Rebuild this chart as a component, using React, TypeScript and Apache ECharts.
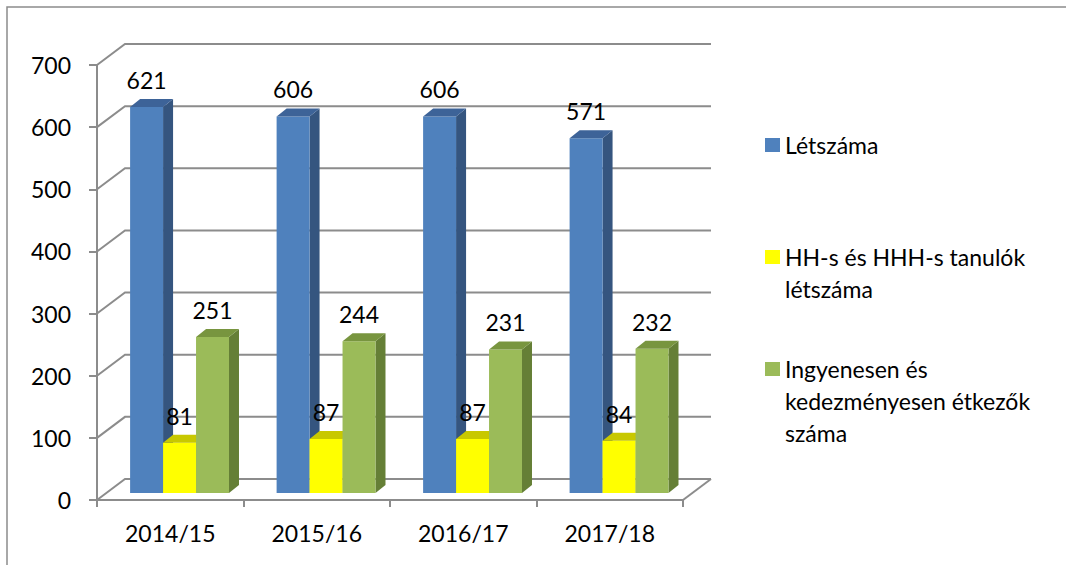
import React, { useEffect, useRef } from "react";
import * as echarts from "echarts";

const categories = ["2014/15", "2015/16", "2016/17", "2017/18"];
const letszama = [621, 606, 606, 571];
const hhTanulok = [81, 87, 87, 84];
const etkezok = [251, 244, 231, 232];
const yTicks = [0, 100, 200, 300, 400, 500, 600, 700];
const seriesNames = [
  "Létszáma",
  "HH-s és HHH-s tanulók létszáma",
  "Ingyenesen és kedezményesen étkezők száma",
];
const legendLines = [
  ["Létszáma"],
  ["HH-s és HHH-s tanulók", "létszáma"],
  ["Ingyenesen és", "kedezményesen étkezők", "száma"],
];

const FONT = "Lato";
const FS = 23;
const GRID_COLOR = "#8c8c8c";
const WALL_DX = 28;
const WALL_DY = -21;
const PLANE_DX = 9.3;
const PLANE_DY = -7;
const BAR_DX = 10;
const BAR_DY = -8;

const palettes = [
  { front: "#4F81BD", side: "#35557F", top: "#3D6398" },
  { front: "#FFFF00", side: "#B8B800", top: "#C8C800" },
  { front: "#9BBB59", side: "#657F36", top: "#78953F" },
];

function barRenderer(s: number) {
  const pal = palettes[s];
  return (params: any, api: any) => {
    const idx = api.value(0);
    const v = api.value(1);
    const base = api.coord([idx, 0]);
    const top = api.coord([idx, v]);
    const band = api.size([1, 0])[0];
    const bw = band * 0.225;
    const cx = base[0] + PLANE_DX;
    const xl = cx - 1.5 * bw + s * bw;
    const xr = xl + bw;
    const yb = base[1] + PLANE_DY;
    const yt = top[1] + PLANE_DY;
    return {
      type: "group",
      children: [
        {
          type: "polygon",
          shape: {
            points: [
              [xr, yt],
              [xr + BAR_DX, yt + BAR_DY],
              [xr + BAR_DX, yb + BAR_DY],
              [xr, yb],
            ],
          },
          style: { fill: pal.side },
        },
        {
          type: "rect",
          shape: { x: xl, y: yt, width: bw, height: yb - yt },
          style: { fill: pal.front },
        },
        {
          type: "polygon",
          shape: {
            points: [
              [xl, yt],
              [xl + BAR_DX, yt + BAR_DY],
              [xr + BAR_DX, yt + BAR_DY],
              [xr, yt],
            ],
          },
          style: { fill: pal.top },
        },
        {
          type: "text",
          z2: 50,
          x: (xl + xr) / 2,
          y: yt - 27,
          style: {
            text: String(v),
            fill: "#000",
            fontSize: FS,
            fontFamily: FONT,
            align: "center",
            verticalAlign: "middle",
          },
        },
      ],
    };
  };
}

function wallRenderer(params: any, api: any) {
  const cs = params.coordSys;
  const x0 = cs.x;
  const w = cs.width;
  const v = api.value(1);
  const y = api.coord([0, v])[1];
  const children: any[] = [
    {
      type: "polyline",
      shape: {
        points: [
          [x0, y],
          [x0 + WALL_DX, y + WALL_DY],
          [x0 + w + WALL_DX, y + WALL_DY],
        ],
      },
      style: { stroke: GRID_COLOR, lineWidth: 2, fill: "none" },
    },
  ];
  if (v === 0) {
    children.push({
      type: "line",
      shape: { x1: x0 + w, y1: y, x2: x0 + w + WALL_DX, y2: y + WALL_DY },
      style: { stroke: GRID_COLOR, lineWidth: 2 },
    });
  }
  return { type: "group", children };
}

export default function App() {
  const ref = useRef<HTMLDivElement>(null);
  useEffect(() => {
    if (!ref.current) return;
    const chart = echarts.init(ref.current, undefined, { renderer: "svg" });
    const valueSets = [letszama, hhTanulok, etkezok];
    const lh = 32;
    const iconCenters = [145, 257, 369];
    chart.setOption({
      animation: false,
      backgroundColor: "#fff",
      graphic: [
        {
          type: "rect",
          shape: { x: 7, y: 7, width: 1200, height: 700 },
          style: { fill: "none", stroke: GRID_COLOR, lineWidth: 1.5 },
          silent: true,
        },
      ],
      grid: { left: 97, top: 65, width: 586, height: 435 },
      xAxis: {
        type: "category",
        data: categories,
        axisLine: { show: true, lineStyle: { color: GRID_COLOR, width: 2 } },
        axisTick: { show: true, length: 7, lineStyle: { color: GRID_COLOR, width: 2 } },
        axisLabel: { color: "#000", fontSize: FS, fontFamily: FONT, margin: 21 },
        splitLine: { show: false },
      },
      yAxis: {
        type: "value",
        min: 0,
        max: 700,
        interval: 100,
        axisLine: { show: true, lineStyle: { color: GRID_COLOR, width: 2 } },
        axisTick: { show: true, inside: false, length: 8, lineStyle: { color: GRID_COLOR, width: 2 } },
        axisLabel: { color: "#000", fontSize: FS, fontFamily: FONT, margin: 26 },
        splitLine: { show: false },
      },
      legend: legendLines.map((lines, i) => {
        const n = lines.length;
        const box = (2 * n - 1) * lh;
        const padded = new Array(n - 1).fill("").concat(lines).join("\n");
        return {
          data: [seriesNames[i]],
          left: 765,
          top: iconCenters[i] - box / 2,
          orient: "vertical",
          padding: 0,
          itemWidth: 15,
          itemHeight: 14,
          icon: "rect",
          selectedMode: false,
          formatter: () => padded,
          textStyle: {
            color: "#000",
            fontSize: FS,
            fontFamily: FONT,
            lineHeight: lh,
          },
        };
      }),
      series: [
        {
          type: "custom",
          name: "walls",
          z: 1,
          silent: true,
          renderItem: wallRenderer,
          data: yTicks.map((v) => [0, v]),
          encode: { x: 0, y: 1 },
        },
        ...valueSets.map((vals, s) => ({
          type: "custom",
          name: seriesNames[s],
          z: 3,
          itemStyle: { color: palettes[s].front },
          renderItem: barRenderer(s),
          data: vals.map((v, i) => [i, v]),
          encode: { x: 0, y: 1 },
        })),
      ],
    });
    return () => chart.dispose();
  }, []);
  return (
    <div
      ref={ref}
      style={{ position: "fixed", left: 0, top: 0, width: 1066, height: 565, background: "#fff" }}
    />
  );
}
